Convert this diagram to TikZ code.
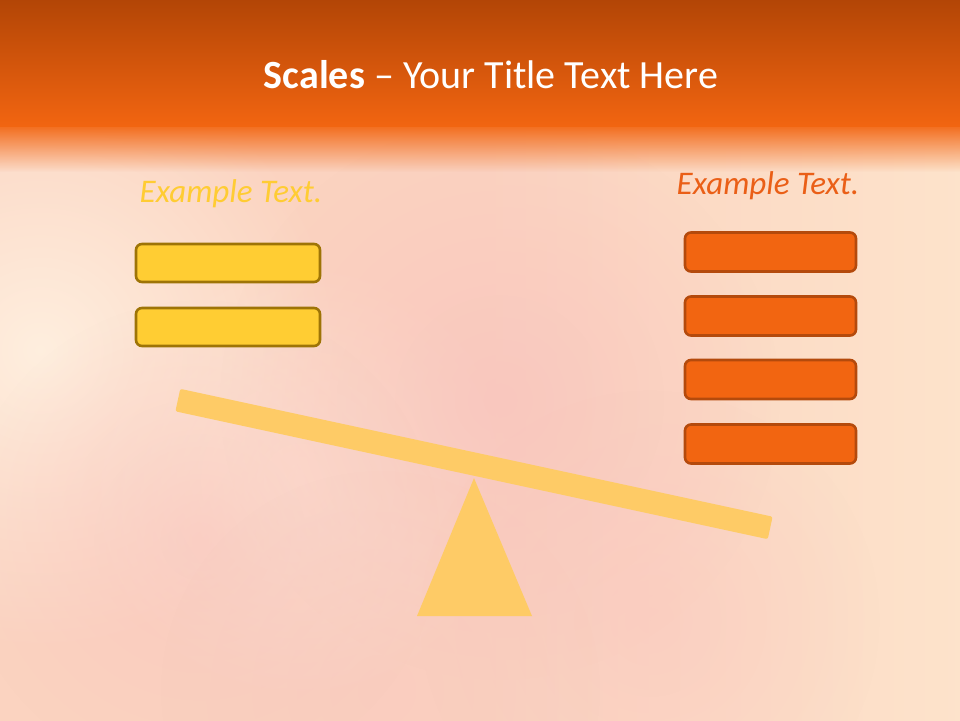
\documentclass[tikz,border=0pt]{standalone}
\usepackage{fontspec}
\setmainfont{Carlito}
\usetikzlibrary{shapes.geometric,fadings}
\tikzfading[name=softglow, inner color=transparent!0, outer color=transparent!100]
\definecolor{hdrtop}{HTML}{AE4305}
\definecolor{hdrbot}{HTML}{F26511}
\definecolor{bodybg}{HTML}{FBD3C0}
\definecolor{glowlight}{HTML}{FFF0E0}
\definecolor{glowright}{HTML}{FDE3CB}
\definecolor{pinkspot}{HTML}{F9C4BE}
\definecolor{yfill}{HTML}{FFCD33}
\definecolor{ydraw}{HTML}{9E7406}
\definecolor{ofill}{HTML}{F26511}
\definecolor{odraw}{HTML}{B44A0C}
\definecolor{beamcol}{HTML}{FECB66}
\definecolor{ytext}{HTML}{FFCC33}
\definecolor{otext}{HTML}{EA5F17}
\tikzset{
  ybox/.style={draw=ydraw, fill=yfill, line width=2.6pt, rounded corners=6pt, minimum width=184pt, minimum height=38pt, inner sep=0pt},
  obox/.style={draw=odraw, fill=ofill, line width=2.6pt, rounded corners=6pt, minimum width=171pt, minimum height=39pt, inner sep=0pt},
  sidelabel/.style={font=\fontsize{33}{38}\selectfont\itshape, inner sep=0pt},
  beamshape/.style={fill=beamcol, rounded corners=2pt, minimum width=606pt, minimum height=23pt, inner sep=0pt},
  glow/.style={path fading=softglow},
}
\begin{document}
\begin{tikzpicture}[x=1pt,y=-1pt]
\useasboundingbox (0,0) rectangle (960,720);
% body background
\fill[bodybg] (-10,-10) rectangle (970,730);
\shade[left color=bodybg, right color=glowright] (480,-10) rectangle (970,730);
\begin{scope}
\clip (0,130) rectangle (960,720);
\fill[glowlight, glow, opacity=0.95] (40,350) circle (300);
\fill[glowlight, glow, opacity=0.6] (300,480) circle (220);
\fill[pinkspot, glow, opacity=0.8] (500,400) circle (280);
\fill[pinkspot, glow, opacity=0.6] (200,540) circle (240);
\fill[pinkspot, glow, opacity=0.5] (650,620) circle (230);
\fill[pinkspot, glow, opacity=0.4] (380,690) circle (220);
\end{scope}
% header
\shade[top color=hdrtop, bottom color=hdrbot] (-10,-10) rectangle (970,127);
\fill[hdrbot!90!bodybg, path fading=south] (-10,127) rectangle (970,172);
% title
\node[text=white, font=\fontsize{40}{46}\selectfont, inner sep=0pt] (title) at (491,75) {\textbf{Scales} – Your Title Text Here};
% left side
\node[sidelabel, text=ytext] (ltext) at (231,194) {Example Text.};
\node[ybox] (l1) at (228,263) {};
\node[ybox] (l2) at (228,327) {};
% right side
\node[sidelabel, text=otext] (rtext) at (768,186) {Example Text.};
\node[obox] (r1) at (770.5,252) {};
\node[obox] (r2) at (770.5,316) {};
\node[obox] (r3) at (770.5,379.5) {};
\node[obox] (r4) at (770.5,444) {};
% fulcrum and beam
\fill[beamcol] (474,478) -- (417,616) -- (532,616) -- cycle;
\node[beamshape, rotate=-12.18] (beam) at (474,464) {};
\end{tikzpicture}
\end{document}
